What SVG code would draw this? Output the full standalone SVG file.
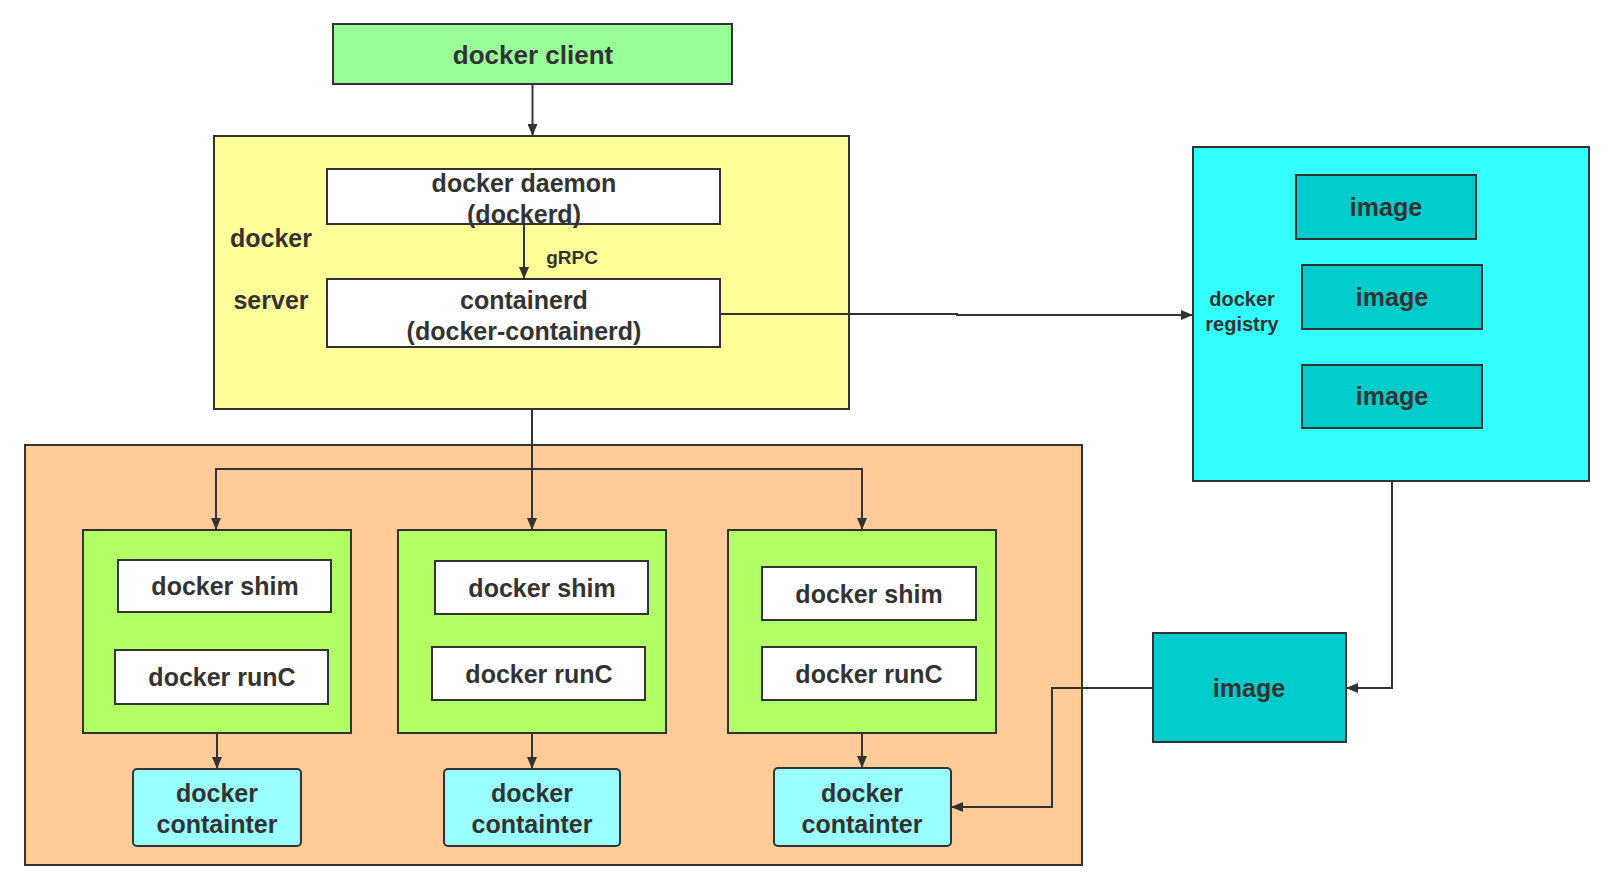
<svg xmlns="http://www.w3.org/2000/svg" width="1615" height="890" viewBox="0 0 1615 890">
<defs>
<marker id="ah" markerWidth="12" markerHeight="10" refX="12" refY="5" orient="auto" markerUnits="userSpaceOnUse">
<path d="M0,0 L12,5 L0,10 Z" fill="#333333"/>
</marker>
<style>
.box{stroke:#333333;stroke-width:2}
.t{font-family:"Liberation Sans",Arial,sans-serif;font-weight:bold;fill:#333333;text-anchor:middle;font-size:25px}
.conn{fill:none;stroke:#333333;stroke-width:2;marker-end:url(#ah)}
.line{fill:none;stroke:#333333;stroke-width:2}
.white{fill:#ffffff}
.green{fill:#b3ff66}
.cont{fill:#99ffff}
.img{fill:#00cccc}
</style>
</defs>
<rect width="1615" height="890" fill="#ffffff"/>

<g id="host">
<rect class="box" x="25" y="445" width="1057" height="420" fill="#ffcc99"/>
</g>

<g id="client">
<rect class="box" x="333" y="24" width="399" height="60" fill="#99ff99"/>
<text class="t" x="533" y="64" style="font-size:26px">docker client</text>
</g>

<g id="server">
<rect class="box" x="214" y="136" width="635" height="273" fill="#ffff99"/>
<text class="t" x="271" y="247">docker</text>
<text class="t" x="271" y="309">server</text>
</g>

<g id="daemon">
<rect class="box white" x="327" y="169" width="393" height="55"/>
<text class="t" x="524" y="192">docker daemon</text>
<text class="t" x="524" y="223">(dockerd)</text>
</g>

<g id="containerd">
<rect class="box white" x="327" y="279" width="393" height="68"/>
<text class="t" x="524" y="309">containerd</text>
<text class="t" x="524" y="340">(docker-containerd)</text>
</g>

<g id="registry">
<rect class="box" x="1193" y="147" width="396" height="334" fill="#33ffff"/>
<text class="t" x="1242" y="306" style="font-size:20px">docker</text>
<text class="t" x="1242" y="331" style="font-size:20px">registry</text>
</g>
<g id="image1">
<rect class="box img" x="1296" y="175" width="180" height="64"/>
<text class="t" x="1386" y="216">image</text>
</g>
<g id="image2">
<rect class="box img" x="1302" y="265" width="180" height="64"/>
<text class="t" x="1392" y="306">image</text>
</g>
<g id="image3">
<rect class="box img" x="1302" y="365" width="180" height="63"/>
<text class="t" x="1392" y="405">image</text>
</g>

<g id="image-local">
<rect class="box img" x="1153" y="633" width="193" height="109"/>
<text class="t" x="1249" y="697">image</text>
</g>

<g id="runtime1">
<rect class="box green" x="83" y="530" width="268" height="203"/>
</g>
<g id="shim1">
<rect class="box white" x="118" y="560" width="213" height="52"/>
<text class="t" x="225" y="595">docker shim</text>
</g>
<g id="runc1">
<rect class="box white" x="115" y="650" width="213" height="54"/>
<text class="t" x="222" y="686">docker runC</text>
</g>
<g id="container1">
<rect class="box cont" x="133" y="769" width="168" height="77" rx="4"/>
<text class="t" x="217" y="802">docker</text>
<text class="t" x="217" y="833">containter</text>
</g>

<g id="runtime2">
<rect class="box green" x="398" y="530" width="268" height="203"/>
</g>
<g id="shim2">
<rect class="box white" x="435" y="561" width="213" height="53"/>
<text class="t" x="542" y="597">docker shim</text>
</g>
<g id="runc2">
<rect class="box white" x="432" y="647" width="213" height="53"/>
<text class="t" x="539" y="683">docker runC</text>
</g>
<g id="container2">
<rect class="box cont" x="444" y="769" width="176" height="77" rx="4"/>
<text class="t" x="532" y="802">docker</text>
<text class="t" x="532" y="833">containter</text>
</g>

<g id="runtime3">
<rect class="box green" x="728" y="530" width="268" height="203"/>
</g>
<g id="shim3">
<rect class="box white" x="762" y="567" width="214" height="53"/>
<text class="t" x="869" y="603">docker shim</text>
</g>
<g id="runc3">
<rect class="box white" x="762" y="647" width="214" height="53"/>
<text class="t" x="869" y="683">docker runC</text>
</g>
<g id="container3">
<rect class="box cont" x="774" y="768" width="177" height="78" rx="4"/>
<text class="t" x="862" y="802">docker</text>
<text class="t" x="862" y="833">containter</text>
</g>

<g id="connectors">
<path class="conn" d="M532.5,84 L532.5,136"/>
<path class="conn" d="M524,224 L524,279"/>
<text class="t" x="572" y="264" style="font-size:19px">gRPC</text>
<path class="conn" d="M720,314 L957,314 L957,315 L1193,315"/>
<path class="line" d="M532,409 L532,469"/>
<path class="conn" d="M532,469 L216,469 L216,530"/>
<path class="conn" d="M532,469 L532,530"/>
<path class="conn" d="M532,469 L862,469 L862,530"/>
<path class="conn" d="M217,733 L217,769"/>
<path class="conn" d="M532,733 L532,769"/>
<path class="conn" d="M862,733 L862,768"/>
<path class="conn" d="M1392,481 L1392,688 L1346,688"/>
<path class="conn" d="M1153,688 L1052,688 L1052,807 L951,807"/>
</g>
</svg>
